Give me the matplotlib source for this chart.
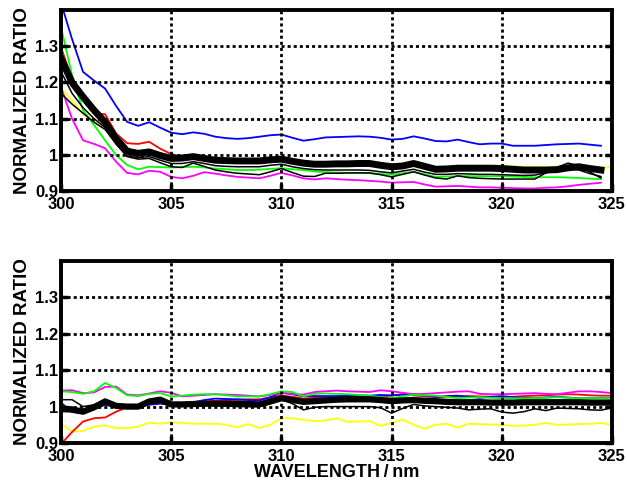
import numpy as np
import matplotlib
matplotlib.use("Agg")
import matplotlib.pyplot as plt

plt.rcParams['font.family'] = ['Liberation Sans', 'DejaVu Sans']
plt.rcParams['font.weight'] = 'bold'

wavelength = np.arange(300, 325.01, 0.5)
nan = np.nan

# ---------------- top panel ----------------
top_blue = [1.42, 1.32, 1.229, 1.205, 1.183, 1.135, 1.091, 1.080, 1.090, 1.075,
            1.061, 1.057, 1.062, 1.058, 1.050, 1.046, 1.044, 1.046, 1.050, 1.054,
            1.056, 1.047, 1.039, 1.043, 1.048, 1.049, 1.050, 1.051, 1.050, 1.047,
            1.042, 1.044, 1.051, 1.045, 1.038, 1.037, 1.042, 1.035, 1.029, 1.031,
            1.031, 1.025, 1.025, 1.025, 1.027, 1.029, 1.030, 1.031, 1.028, 1.025, nan]
top_mean = [1.266, 1.20, 1.160, 1.123, 1.090, 1.045, 1.010, 1.004, 1.008, 0.998,
            0.990, 0.991, 0.995, 0.990, 0.985, 0.984, 0.983, 0.983, 0.983, 0.986,
            0.988, 0.982, 0.977, 0.974, 0.974, 0.975, 0.975, 0.976, 0.976, 0.971,
            0.967, 0.969, 0.976, 0.968, 0.960, 0.961, 0.963, 0.963, 0.963, 0.963,
            0.962, 0.960, 0.958, 0.958, 0.958, 0.959, 0.964, 0.967, 0.962, 0.958, nan]
top_yellow = [1.184, 1.150, 1.112, 1.095, 1.075, 1.040, 1.012, 1.007, 1.010, 1.002,
              0.998, 0.999, 0.999, 0.995, 0.990, 0.988, 0.987, 0.988, 0.990, 0.993,
              0.995, 0.987, 0.980, 0.978, 0.978, 0.979, 0.980, 0.981, 0.981, 0.976,
              0.972, 0.975, 0.982, 0.975, 0.966, 0.966, 0.968, 0.968, 0.969, 0.970,
              0.970, 0.968, 0.967, 0.966, 0.966, 0.967, 0.969, 0.970, 0.968, 0.964, 0.966]
top_red = [1.297, 1.21, 1.151, 1.115, 1.112, 1.059, 1.032, 1.030, 1.036, 1.017,
           1.002, 0.995, 0.997, 0.992, 0.986, 0.985, 0.984, 0.984, 0.984, 0.987,
           0.989, 0.982, 0.976, 0.974, 0.974, 0.975, 0.975, 0.976, 0.975, 0.970,
           0.966, 0.969, 0.975, 0.967, 0.960, 0.960, 0.962, 0.962, 0.962, 0.962,
           0.961, 0.959, 0.957, 0.957, 0.957, 0.958, 0.963, 0.966, 0.961, 0.957, nan]
top_green = [1.353, 1.22, 1.123, 1.082, 1.040, 0.999, 0.972, 0.960, 0.967, 0.966,
             0.965, 0.966, 0.967, 0.965, 0.962, 0.960, 0.958, 0.958, 0.959, 0.961,
             0.963, 0.960, 0.958, 0.954, 0.952, 0.951, 0.950, 0.950, 0.949, 0.947,
             0.945, 0.949, 0.953, 0.946, 0.939, 0.940, 0.941, 0.941, 0.941, 0.941,
             0.941, 0.940, 0.939, 0.938, 0.938, 0.938, 0.937, 0.936, 0.934, 0.933, nan]
top_magenta = [1.187, 1.10, 1.040, 1.030, 1.018, 0.981, 0.950, 0.946, 0.956, 0.953,
               0.939, 0.935, 0.942, 0.952, 0.948, 0.943, 0.939, 0.937, 0.935, 0.942,
               0.950, 0.943, 0.935, 0.932, 0.935, 0.933, 0.931, 0.930, 0.928, 0.926,
               0.923, 0.924, 0.925, 0.918, 0.912, 0.913, 0.914, 0.912, 0.910, 0.910,
               0.909, 0.908, 0.907, 0.907, 0.909, 0.910, 0.913, 0.917, 0.920, 0.923, nan]
top_black2 = [1.23, 1.17, 1.13, 1.10, 1.075, 1.03, 0.997, 0.992, 0.995, 0.985,
              0.976, 0.976, 0.981, 0.976, 0.970, 0.968, 0.967, 0.967, 0.967, 0.971,
              0.974, 0.967, 0.962, 0.959, 0.958, 0.958, 0.958, 0.958, 0.957, 0.953,
              0.950, 0.955, 0.960, 0.952, 0.946, 0.946, 0.948, 0.947, 0.946, 0.946,
              0.945, 0.944, 0.943, 0.944, 0.950, 0.958, 0.962, 0.958, 0.948, 0.940, nan]
top_black3 = [1.17, 1.14, 1.115, 1.090, 1.070, 1.030, 0.995, 0.988, 0.990, 0.978,
              0.967, 0.965, 0.977, 0.968, 0.958, 0.953, 0.949, 0.947, 0.945, 0.953,
              0.962, 0.951, 0.941, 0.940, 0.949, 0.949, 0.950, 0.950, 0.950, 0.945,
              0.939, 0.946, 0.953, 0.944, 0.936, 0.933, 0.942, 0.937, 0.935, 0.934,
              0.933, 0.933, 0.933, 0.933, 0.950, 0.965, 0.977, 0.970, 0.952, 0.936, nan]

# ---------------- bottom panel ----------------
bot_magenta = [1.044, 1.045, 1.037, 1.039, 1.054, 1.055, 1.033, 1.031, 1.036, 1.042,
               1.038, 1.028, 1.030, 1.032, 1.034, 1.033, 1.032, 1.030, 1.028, 1.032,
               1.037, 1.035, 1.033, 1.040, 1.042, 1.044, 1.042, 1.041, 1.040, 1.045,
               1.042, 1.038, 1.034, 1.035, 1.037, 1.039, 1.041, 1.042, 1.035, 1.034,
               1.034, 1.035, 1.036, 1.037, 1.035, 1.034, 1.038, 1.042, 1.042, 1.040, 1.037]
bot_green = [1.042, 1.040, 1.035, 1.042, 1.065, 1.051, 1.031, 1.029, 1.035, 1.037,
             1.028, 1.030, 1.033, 1.034, 1.034, 1.031, 1.028, 1.028, 1.028, 1.034,
             1.042, 1.040, 1.028, 1.035, 1.036, 1.035, 1.034, 1.032, 1.030, 1.026,
             1.023, 1.028, 1.033, 1.031, 1.030, 1.027, 1.023, 1.025, 1.026, 1.024,
             1.023, 1.023, 1.023, 1.023, 1.024, 1.026, 1.024, 1.023, 1.023, 1.023, 1.023]
bot_blue = [1.011, 0.985, 0.982, 0.993, 1.005, 1.000, 0.997, 1.000, 1.005, 1.008,
            1.005, 1.008, 1.012, 1.018, 1.022, 1.021, 1.020, 1.018, 1.017, 1.026,
            1.038, 1.034, 1.028, 1.029, 1.029, 1.029, 1.030, 1.031, 1.030, 1.032,
            1.031, 1.033, 1.035, 1.030, 1.027, 1.029, 1.030, 1.027, 1.024, 1.027,
            1.029, 1.026, 1.024, 1.023, 1.025, 1.027, 1.025, 1.023, 1.023, 1.023, 1.023]
bot_red = [0.897, 0.930, 0.959, 0.968, 0.970, 0.986, 0.998, 1.002, 1.008, 1.012,
           1.008, 1.010, 1.012, 1.014, 1.016, 1.018, 1.019, 1.020, 1.020, 1.025,
           1.030, 1.027, 1.022, 1.024, 1.026, 1.027, 1.028, 1.027, 1.026, 1.028,
           1.030, 1.034, 1.031, 1.028, 1.026, 1.027, 1.028, 1.029, 1.028, 1.027,
           1.026, 1.027, 1.029, 1.030, 1.031, 1.033, 1.034, 1.033, 1.031, 1.030, 1.030]
bot_yellow = [0.953, 0.931, 0.933, 0.945, 0.948, 0.941, 0.941, 0.945, 0.956, 0.953,
              0.957, 0.955, 0.953, 0.953, 0.953, 0.950, 0.943, 0.952, 0.941, 0.950,
              0.968, 0.968, 0.964, 0.960, 0.962, 0.968, 0.958, 0.959, 0.960, 0.947,
              0.955, 0.964, 0.950, 0.939, 0.950, 0.953, 0.942, 0.953, 0.952, 0.951,
              0.950, 0.947, 0.948, 0.950, 0.955, 0.950, 0.951, 0.952, 0.953, 0.955, 0.950]
bot_mean = [0.993, 0.992, 0.986, 0.998, 1.014, 1.002, 1.000, 1.000, 1.014, 1.019,
            1.006, 1.006, 1.007, 1.008, 1.008, 1.008, 1.008, 1.007, 1.006, 1.014,
            1.023, 1.018, 1.013, 1.015, 1.017, 1.019, 1.020, 1.020, 1.020, 1.018,
            1.015, 1.017, 1.018, 1.016, 1.015, 1.013, 1.012, 1.012, 1.012, 1.011,
            1.011, 1.011, 1.012, 1.012, 1.012, 1.012, 1.012, 1.012, 1.011, 1.011, 1.011]
bot_black2 = [1.019, 1.019, 1.000, 1.005, 1.020, 1.006, 1.003, 1.003, 1.016, 1.021,
              1.009, 1.009, 1.010, 1.011, 1.011, 1.011, 1.011, 1.010, 1.009, 1.017,
              1.026, 1.021, 1.016, 1.018, 1.020, 1.022, 1.023, 1.023, 1.023, 1.021,
              1.018, 1.020, 1.021, 1.019, 1.018, 1.016, 1.015, 1.015, 1.015, 1.014,
              1.014, 1.014, 1.015, 1.015, 1.015, 1.015, 1.015, 1.015, 1.014, 1.014, 1.014]
bot_black3 = [1.000, 0.998, 0.990, 0.997, 1.010, 1.000, 0.998, 0.998, 1.008, 1.012,
              1.001, 1.001, 1.002, 1.003, 1.003, 1.002, 1.000, 1.000, 1.000, 1.008,
              1.020, 1.008, 0.991, 0.998, 1.000, 1.000, 1.000, 1.000, 1.000, 0.997,
              0.982, 0.995, 1.006, 1.002, 1.000, 0.998, 0.996, 0.991, 0.993, 0.994,
              0.985, 0.982, 0.986, 0.994, 0.989, 0.996, 0.995, 0.994, 0.991, 0.990, 0.997]

xticks = [300, 305, 310, 315, 320, 325]
yticks = [0.9, 1.0, 1.1, 1.2, 1.3]
ytick_labels = ["0.9", "1", "1.1", "1.2", "1.3"]

fig = plt.figure(figsize=(6.27, 4.87), dpi=100)
ax_top = fig.add_axes([61/627, 1-191/487, 551/627, 181/487])
ax_bot = fig.add_axes([61/627, 1-443/487, 551/627, 182/487])

def style(ax):
    ax.set_xlim(300, 325)
    ax.set_ylim(0.9, 1.4)
    ax.set_xticks(xticks)
    ax.set_xticklabels([str(t) for t in xticks])
    ax.set_yticks(yticks)
    ax.set_yticklabels(ytick_labels)
    ax.grid(True, color='black', linestyle=(0, (1.1, 1.1)), linewidth=2.0)
    ax.tick_params(direction='in', length=5, width=2.5, right=True, top=False,
                   labelsize=12)
    ax.tick_params(axis='x', pad=4)
    ax.tick_params(axis='y', pad=2)
    for lab in ax.get_xticklabels() + ax.get_yticklabels():
        lab.set_fontweight('bold')
    for s in ax.spines.values():
        s.set_linewidth(2.8)
    ax.set_ylabel("NORMALIZED RATIO", fontsize=13.5, fontweight='bold', labelpad=3)
    ax.set_axisbelow(False)

lw = 1.3
ax_top.plot(wavelength, top_yellow, color='#ffff00', lw=lw)
ax_top.plot(wavelength, top_red, color='#ff0000', lw=lw)
ax_top.plot(wavelength, top_green, color='#00ff00', lw=lw)
ax_top.plot(wavelength, top_magenta, color='#ff00ff', lw=lw)
ax_top.plot(wavelength, top_blue, color='#0000ff', lw=lw)
ax_top.plot(wavelength, top_black3, color='black', lw=1.1)
ax_top.plot(wavelength, top_black2, color='black', lw=1.1)
ax_top.plot(wavelength, top_mean, color='black', lw=5)
style(ax_top)

ax_bot.plot(wavelength, bot_yellow, color='#ffff00', lw=lw)
ax_bot.plot(wavelength, bot_red, color='#ff0000', lw=lw)
ax_bot.plot(wavelength, bot_blue, color='#0000ff', lw=lw)
ax_bot.plot(wavelength, bot_magenta, color='#ff00ff', lw=lw)
ax_bot.plot(wavelength, bot_green, color='#00ff00', lw=lw)
ax_bot.plot(wavelength, bot_black3, color='black', lw=1.1)
ax_bot.plot(wavelength, bot_black2, color='black', lw=1.1)
ax_bot.plot(wavelength, bot_mean, color='black', lw=4.5)
style(ax_bot)
ax_bot.set_xlabel("WAVELENGTH\u2009/\u2009nm", fontsize=13, fontweight='bold', labelpad=0)

fig.savefig("out.png", dpi=100)
